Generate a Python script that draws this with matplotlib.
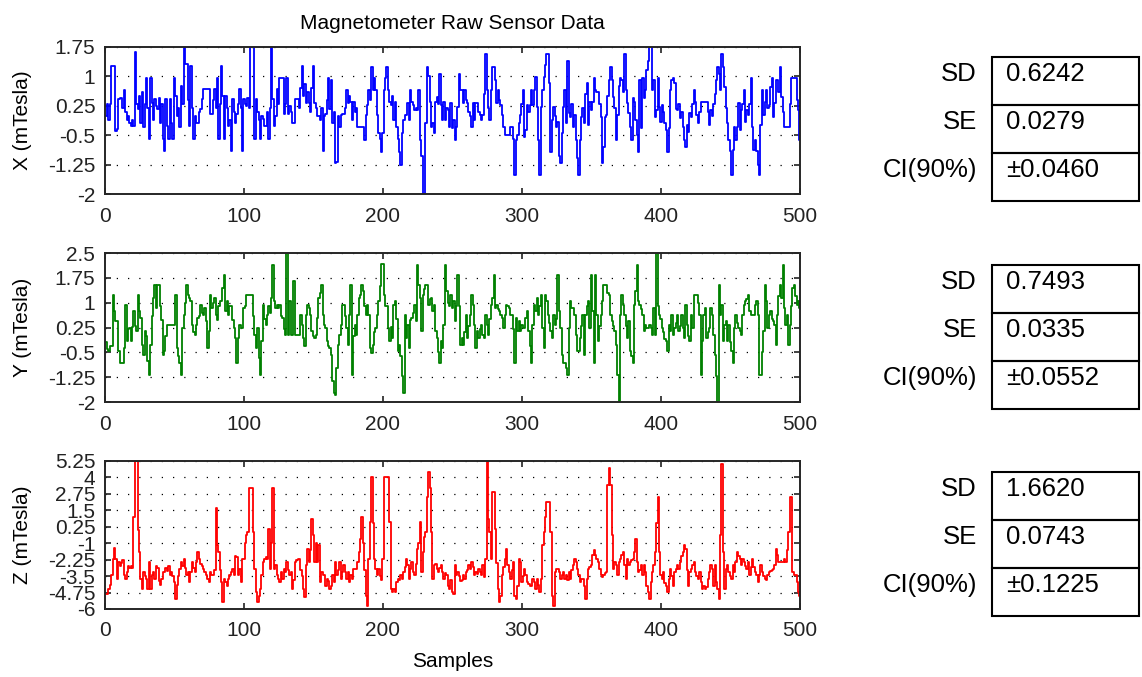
import matplotlib
matplotlib.use('Agg')
import matplotlib.pyplot as plt
import numpy as np
from matplotlib.patches import Rectangle

# ---------------- data ----------------
x_values = [
    0.0, 0.3, -0.1, 0.3, 1.27, 1.27, 1.27, -0.39, -0.35, 0.42,
    0.46, 0.46, 0.2, 0.66, 0.1, -0.1, 0.0, -0.2, -0.26, -0.1,
    -0.26, 1.61, 0.3, 0.16, 0.5, -0.18, 0.6, -0.3, 0.3, 0.97,
    0.2, -0.6, 0.97, 0.33, -0.1, 0.42, 0.25, 0.16, 0.46, -0.18,
    0.3, -0.6, -0.9, 0.42, -0.26, -0.6, 0.42, -0.2, -0.6, 0.97,
    0.5, 0.0, 0.2, -0.3, 0.76, 0.3, 1.75, 1.31, 1.31, 0.4,
    -0.26, 1.27, 0.2, -0.6, 0.0, -0.18, -0.18, 0.1, 0.16, 0.42,
    0.67, 0.67, 0.67, 0.67, 0.67, 0.04, 0.04, 0.4, 0.67, 0.2,
    0.97, -0.6, 0.3, 1.27, 0.5, -0.6, 0.5, 0.2, -0.26, -0.1,
    -0.9, 0.42, 0.1, -0.18, 0.04, 0.3, 0.67, 0.2, -0.9, 0.42,
    0.3, 0.25, 0.46, 0.2, 1.75, 1.75, 1.75, -0.6, 0.42, 0.08,
    -0.1, -0.6, 0.0, -0.09, -0.26, -0.26, 0.1, -0.6, 0.2, 1.75,
    0.42, -0.26, 0.0, 0.67, 0.3, 0.97, 0.97, 0.97, 0.04, 0.3,
    0.97, 0.04, 0.25, 0.1, -0.18, -0.18, 0.42, 0.42, 0.42, 0.2,
    0.7, 1.27, 0.5, 0.8, 0.33, 0.6, 0.33, 0.1, 0.7, 1.27,
    0.33, 0.2, 0.0, 0.0, -0.1, 0.2, -0.9, 0.0, 0.04, 0.4,
    0.97, 0.16, 0.9, -0.2, 0.1, -1.21, -1.19, 0.0, -0.3, 0.01,
    0.04, 0.04, 0.2, 0.65, 0.31, 0.5, 0.35, -0.11, 0.35, 0.1,
    0.2, -0.28, -0.28, -0.28, -0.28, -0.28, -0.62, 0.01, 0.27, 0.65,
    0.4, 1.24, 0.65, 0.95, 0.65, 0.01, -0.45, -0.6, -0.92, -0.45,
    0.65, 0.95, 1.24, 0.65, 0.35, 0.27, 0.5, -0.11, 0.35, -0.28,
    -0.6, -0.92, -1.26, -0.45, -0.11, 0.01, 0.01, 0.31, -0.11, 0.65,
    0.35, 0.27, 0.14, 0.2, 0.14, 0.65, -0.62, -1.04, -2.0, -2.0,
    -0.2, 1.24, 1.0, 0.35, -0.28, -0.2, -0.45, 0.35, 0.48, 0.3,
    1.07, 0.27, -0.11, 0.35, -0.11, 0.2, 0.14, -0.28, 0.31, -0.32,
    -0.1, -0.62, -0.28, 0.23, 1.07, 0.65, 0.65, 0.31, 0.65, 0.4,
    0.31, 0.1, 0.0, -0.28, 0.31, -0.11, 0.31, 0.31, 0.1, 0.01,
    -0.11, 0.01, 0.56, 1.56, 0.65, 0.2, -0.11, 0.65, 1.24, 1.24,
    0.9, 0.31, 0.65, 0.4, 0.27, 0.01, -0.28, -0.49, -0.49, -0.49,
    -0.49, -0.3, -0.28, -0.6, -1.51, -0.62, -0.49, -0.2, 0.01, 0.3,
    0.65, -0.54, -0.37, 0.27, 0.1, 0.27, 0.65, 0.27, 0.65, 0.99,
    0.23, -0.62, -1.51, 0.23, 0.65, 0.99, 1.3, 1.56, 1.56, 0.82,
    -0.92, -0.11, 0.23, 0.0, -0.28, -0.16, -1.04, -1.21, -0.45, 0.23,
    0.65, -0.2, 1.4, 0.06, -0.03, 0.3, -0.28, 0.01, -0.62, -1.09,
    -1.51, -0.62, -0.03, 0.2, -0.2, 0.56, 0.82, -0.24, 0.35, 0.14,
    0.35, 0.95, 0.65, 0.61, 0.61, 0.3, -0.03, -1.21, -0.79, -0.03,
    0.01, 0.5, 0.9, 1.24, 0.9, 0.48, 0.2, -0.62, 0.01, 0.75,
    0.95, 0.9, 0.6, 1.56, 0.65, 0.31, 0.06, -0.3, -0.62, 0.44,
    0.35, -0.11, -0.5, -0.92, 0.9, -0.32, 0.95, 0.44, 0.65, 1.16,
    1.4, 1.75, 1.75, 0.65, 0.9, -0.03, 0.14, 0.95, 0.23, -0.16,
    0.27, 0.1, -0.2, -0.37, -0.92, -0.32, 0.65, 0.9, 0.95, 0.82,
    0.18, 0.14, 0.3, -0.07, 0.1, -0.28, -0.62, -0.79, -0.24, -0.41,
    0.06, -0.03, 0.3, 0.65, 0.35, 0.01, -0.2, 0.1, 0.35, 0.35,
    0.35, 0.35, 0.35, 0.1, -0.24, 0.14, 0.0, 0.3, 0.56, 0.9,
    1.24, 1.07, 0.65, 1.56, 1.24, 0.73, 0.2, -0.2, -0.62, -0.9,
    -1.51, -0.88, -0.28, -0.62, -0.28, 0.31, -0.37, 0.14, 0.3, 0.65,
    -0.16, 0.14, 0.01, 0.3, 0.95, -0.28, -0.88, -0.62, -0.9, -1.26,
    -1.51, -0.24, 0.65, 0.01, 0.35, 0.65, 0.2, 0.27, 0.73, 0.95,
    -0.03, 0.31, 0.9, 0.9, 0.6, 1.24, 0.48, 0.1, -0.28, -0.28,
    -0.28, -0.28, 0.3, 0.95, 0.95, 0.95, 0.95, 0.4, 0.14, -0.62,
]

y_values = [
    -0.2, -0.4, -0.45, -0.3, -0.3, 1.24, 0.74, 0.44, 0.44, -0.47,
    -0.82, -0.82, -0.82, -0.37, 0.94, -0.17, 0.2, 0.23, -0.17, 0.28,
    0.74, 0.3, 0.13, 1.24, 0.74, 0.54, -0.27, -0.57, 0.13, 0.0,
    -0.77, -1.18, -0.27, 0.6, 1.14, 1.54, 0.84, 1.54, 1.54, 0.9,
    0.49, -0.57, -0.47, -0.02, 0.33, 0.33, 0.33, 0.33, 0.33, 0.33,
    1.24, -0.37, -0.6, -0.82, -1.18, 0.23, 0.64, 1.0, 1.54, 1.24,
    1.14, 1.04, 0.33, 0.1, 0.03, 0.33, 0.54, 0.59, 0.94, 0.7,
    0.64, 0.84, 0.44, -0.37, 0.13, 1.24, 0.84, 1.0, 1.14, 0.64,
    0.49, 0.89, 1.04, 1.04, 1.44, 1.85, 0.74, 1.04, 0.64, 0.89,
    0.89, 0.49, 0.23, -0.07, -0.82, -0.07, 0.33, 0.23, 0.23, 0.84,
    0.9, 1.24, 1.24, 1.24, 1.24, 1.24, 0.6, 0.03, -0.37, 0.23,
    -0.67, -1.18, -0.17, 0.94, 0.5, 0.33, 0.64, 0.89, 0.7, 1.14,
    2.15, 1.04, 0.84, 0.94, 0.84, 0.94, 0.6, 0.54, 0.2, 0.03,
    2.5, 0.03, 1.04, 0.03, 0.03, 1.64, 0.03, 0.03, 0.03, 0.03,
    0.64, 0.33, -0.07, -0.32, 0.64, 0.94, 0.84, 0.64, 0.13, 0.0,
    -0.07, 0.03, 0.54, 1.14, 1.3, 1.54, 0.64, 0.33, 0.23, -0.17,
    -0.3, -0.37, -0.57, -1.38, -1.73, -1.78, -0.97, -0.27, 0.03, 0.33,
    0.94, 0.94, 0.6, 0.23, -0.27, 0.64, 1.54, -1.18, 0.0, 0.33,
    0.03, 0.64, 1.14, 1.24, 1.54, 1.34, 0.9, 0.64, 0.94, 0.64,
    -0.37, -0.52, -0.27, 0.1, 0.23, 0.64, 1.04, 1.5, 2.17, 2.17,
    1.24, 0.9, 0.89, 0.23, -0.17, 0.28, -0.07, 0.94, 1.04, 0.5,
    -0.47, -0.27, -0.6, -1.2, -1.73, 0.64, -0.07, 0.33, -0.37, 0.49,
    0.54, 0.7, 0.94, 0.44, 2.15, 1.54, 1.14, 0.13, 1.24, 1.4,
    1.54, 1.54, 0.94, 1.1, 1.14, 0.74, 0.94, 0.13, -0.07, -0.5,
    -0.82, -0.17, -0.37, 0.33, 2.15, 1.34, 1.0, 0.89, 1.24, 0.84,
    1.04, 0.44, 0.9, 1.85, 0.89, -0.27, -0.07, -0.27, 0.1, 0.64,
    -0.07, 0.3, 0.64, 1.24, 0.94, 0.33, -0.37, 0.13, -0.07, 0.2,
    0.33, 0.03, -0.07, 0.64, 0.33, 0.03, 0.5, 0.94, 1.14, 1.85,
    0.84, 0.94, 0.8, 0.74, 0.64, 0.54, 0.23, 0.64, 0.94, 0.9,
    0.84, 0.64, 0.64, 0.2, -0.82, 0.54, 0.13, 0.44, 0.13, 0.33,
    0.23, 0.23, 0.54, 0.74, 0.13, -0.3, -0.82, 0.33, 0.94, 0.74,
    1.14, 0.64, 0.9, 1.24, 0.23, -0.37, 1.24, 1.04, 0.64, 0.4,
    0.13, -0.07, 0.64, 0.33, 0.5, 1.85, 0.74, 0.23, -0.57, -0.82,
    -0.82, -0.97, -1.18, 0.23, 1.04, 0.84, 0.84, 0.64, 0.03, -0.47,
    -0.47, -0.07, 0.3, 0.64, -0.57, 0.64, 0.9, 1.04, 0.23, 1.85,
    0.74, -0.82, 1.85, 0.64, -0.17, 0.3, 0.64, 1.04, 1.54, 1.54,
    1.54, 1.3, 1.24, 0.64, 0.44, 0.3, 0.13, -0.27, -1.18, -2.0,
    0.64, 1.24, 0.94, 0.64, 0.3, -0.07, 0.44, -0.47, -0.6, -0.82,
    0.94, 1.34, 2.15, 1.04, 0.94, 0.8, 0.64, 0.13, 0.33, 0.23,
    0.23, 0.33, 0.23, 0.03, 0.84, 0.03, 2.5, 0.89, 0.64, 0.5,
    0.23, 0.1, -0.1, -0.17, -0.47, 0.33, 0.13, 0.64, 0.03, 0.23,
    0.4, 0.64, 0.13, 0.3, 0.64, 0.23, -0.07, 0.94, 0.33, 0.0,
    -0.17, 0.64, 0.23, 1.24, 1.24, 1.24, 1.0, 0.64, -1.18, -0.17,
    0.64, 0.84, -0.07, 0.1, 0.23, 0.84, 0.64, 0.03, -0.57, -1.2,
    -2.0, 1.54, 0.64, 0.94, -0.17, 0.33, 0.44, -0.17, 0.33, -0.2,
    -0.47, -0.82, 0.23, 0.64, 0.4, 0.23, 0.13, 0.03, 0.64, 0.94,
    1.04, 1.1, 1.24, 0.74, 0.64, 0.64, 0.64, 0.94, 1.04, 0.64,
    -1.18, -1.18, -0.5, 0.13, 1.54, 1.04, 0.23, 0.64, 0.74, 0.5,
    0.44, 0.33, -0.27, 0.64, 1.2, 1.54, 1.14, 2.15, 0.84, 0.33,
    0.64, -0.27, 0.33, 0.9, 1.44, 1.54, 1.2, 0.94, 1.04, 0.84,
]

z_values = [
    -4.85, -4.85, -4.5, -4.2, -3.45, -2.2, -1.4, -2.2, -3.7, -2.4,
    -2.7, -2.5, -2.3, -3.45, -3.7, -3.2, -2.7, -2.9, -2.7, -2.9,
    1.0, 5.25, 5.25, 0.0, -1.7, -3.7, -4.5, -3.2, -3.5, -3.7,
    -4.5, -2.4, -4.5, -3.45, -3.2, -3.7, -2.7, -2.9, -3.9, -4.2,
    -3.7, -3.2, -3.2, -2.9, -3.1, -2.7, -3.45, -3.2, -3.5, -3.96,
    -5.23, -4.2, -3.5, -2.94, -2.43, -2.7, -2.2, -2.9, -3.45, -3.2,
    -3.96, -3.2, -2.43, -2.9, -3.2, -2.43, -1.67, -2.2, -2.56, -2.7,
    -2.94, -3.2, -3.45, -3.71, -3.96, -3.2, -3.45, -3.45, -3.07, 1.64,
    -1.16, -1.67, -3.0, -3.96, -5.49, -3.71, -3.96, -4.22, -3.71, -3.45,
    -3.2, -2.94, -3.45, -2.0, -2.05, -3.45, -2.94, -3.96, -2.18, -2.18,
    -1.0, -0.4, -0.14, 3.16, 3.16, 3.16, -0.14, -2.94, -4.72, -5.49,
    -4.98, -4.5, -3.45, -2.43, -2.18, -2.05, -2.18, 0.11, -2.94, -1.0,
    3.16, -2.94, -2.69, -3.45, -3.7, -3.96, -3.2, -3.71, -2.94, -3.2,
    -2.43, -3.0, -3.45, -3.2, -4.47, -3.83, -2.43, -2.31, -2.2, -2.18,
    -3.07, -3.5, -4.47, -5.11, -2.69, -1.42, -2.43, -1.5, 0.87, -0.4,
    -2.43, -0.96, -2.43, -1.16, -3.96, -3.2, -3.45, -3.45, -4.22, -3.71,
    -3.9, -4.47, -4.22, -3.45, -3.96, -2.43, -3.45, -3.0, -2.43, -3.71,
    -3.2, -2.69, -3.2, -3.71, -3.2, -3.96, -3.45, -3.71, -2.94, -2.94,
    -2.94, -2.43, -1.67, -0.65, 1.0, -0.96, -3.0, -4.98, -5.74, -2.18,
    0.62, 4.05, 0.5, -2.18, -2.94, -3.45, -2.94, -3.5, -3.83, -2.18,
    4.05, 4.05, 4.05, 4.05, 0.62, -4.47, -4.72, -4.47, -4.72, -3.96,
    -3.7, -3.83, -3.45, -3.71, -3.2, -2.82, -2.18, -2.69, -3.71, -2.94,
    -2.43, -3.2, -3.45, -2.56, -1.42, -1.0, 0.62, -3.2, -1.67, -0.5,
    -0.14, 2.53, 4.38, 3.16, -0.14, -3.71, -2.69, -2.56, -2.94, -3.2,
    -2.9, -2.69, -3.2, -3.71, -3.3, -3.45, -4.22, -4.47, -3.83, -4.72,
    -4.85, -2.69, -3.45, -3.2, -3.5, -3.9, -3.83, -3.45, -3.71, -3.2,
    -3.07, -2.69, -2.94, -2.43, -2.8, -3.45, -3.2, -3.33, -2.94, -3.2,
    -3.45, -2.69, -3.58, -2.18, 5.25, 0.87, -0.14, -2.18, 2.91, 2.91,
    0.11, -2.5, -4.47, -5.49, -4.98, -3.45, -2.8, -2.18, -1.42, -2.69,
    -3.2, -3.71, -3.0, -2.43, -4.98, -5.23, -4.22, -2.18, -2.43, -3.96,
    -3.5, -2.94, -3.45, -3.96, -4.1, -4.22, -4.22, -3.71, -3.96, -4.47,
    -3.71, -4.2, -4.72, -3.71, -1.16, -0.14, 1.0, 2.15, 2.15, 2.15,
    -0.14, -4.98, -5.74, -3.2, -2.94, -2.94, -3.2, -3.71, -3.45, -3.2,
    -3.71, -3.45, -3.83, -3.2, -3.71, -3.0, -2.69, -2.18, -2.43, -2.94,
    -3.45, -3.96, -3.71, -3.71, -4.22, -5.23, -3.71, -2.94, -2.8, -2.69,
    -1.93, -1.54, -1.93, -2.2, -2.43, -2.94, -3.45, -3.58, -3.45, -3.3,
    -3.2, 3.42, 4.69, 3.42, -0.4, -2.94, -2.43, -2.69, -3.45, -2.43,
    -2.18, -1.9, -1.67, -2.69, -3.71, -2.18, -2.69, -2.43, -2.3, -2.18,
    -1.67, -0.65, -2.43, -3.2, -3.0, -2.69, -3.45, -2.69, -3.2, -4.22,
    -4.7, -5.23, -3.96, -3.2, -2.69, -1.67, 0.5, 2.53, -1.67, -3.45,
    -3.71, -3.2, -4.0, -4.22, -4.72, -3.71, -2.94, -3.5, -4.22, -3.2,
    -2.94, -2.69, -2.94, -2.43, -2.0, -1.67, -1.16, -1.42, -3.0, -4.22,
    -3.2, -2.94, -2.69, -2.43, -3.2, -3.5, -3.71, -3.2, -3.96, -4.47,
    -4.22, -4.47, -4.3, -3.71, -3.2, -2.69, -2.94, -4.22, -2.69, -3.96,
    -4.5, -5.23, -0.4, 5.0, -1.67, -4.47, -2.94, -2.69, -3.2, -3.5,
    -3.71, -2.69, -3.2, -2.43, -1.67, -2.0, -2.18, -2.69, -2.18, -2.43,
    -2.7, -2.94, -2.43, -3.45, -2.82, -2.18, -2.8, -3.2, -3.45, -3.96,
    -3.45, -2.69, -3.2, -3.5, -3.71, -3.83, -3.45, -3.2, -3.1, -3.07,
    -2.94, -2.69, -1.42, -1.93, -2.43, -2.43, -2.43, -2.43, -2.18, -2.43,
    -1.5, -0.14, 2.53, 2.53, -3.2, -3.45, -3.45, -3.96, -4.72, -4.98,
]

samples = np.arange(1, len(x_values) + 1)

x_ticks = [0, 100, 200, 300, 400, 500]
x_yticks = [-2, -1.25, -0.5, 0.25, 1, 1.75]
y_yticks = [-2, -1.25, -0.5, 0.25, 1, 1.75, 2.5]
z_yticks = [-6, -4.75, -3.5, -2.25, -1, 0.25, 1.5, 2.75, 4, 5.25]

stat_names = ['SD', 'SE', 'CI(90%)']
x_stats = ['0.6242', '0.0279', '\u00b10.0460']
y_stats = ['0.7493', '0.0335', '\u00b10.0552']
z_stats = ['1.6620', '0.0743', '\u00b10.1225']

# ---------------- figure ----------------
plt.rcParams['font.family'] = ['Liberation Sans', 'DejaVu Sans']
plt.rcParams['axes.unicode_minus'] = False

W, H = 1142, 677
fig = plt.figure(figsize=(W / 100, H / 100), dpi=100)


def fx(px):
    return px / W


def fy(py):
    return 1 - py / H


panel_px = [(47, 194), (253, 402), (461, 609)]
left_px, right_px = 105, 800

specs = [
    (x_values, 'X (mTesla)', x_yticks, (0, 0, 1)),
    (y_values, 'Y (mTesla)', y_yticks, (0, 0.5, 0)),
    (z_values, 'Z (mTesla)', z_yticks, (1, 0, 0)),
]

axes = []
for (vals, lab, yt, col), (top, bot) in zip(specs, panel_px):
    ax = fig.add_axes([fx(left_px), fy(bot), (right_px - left_px) / W, (bot - top) / H])
    ax.plot(samples, vals, color=col, lw=1.3, drawstyle='steps-mid')
    ax.set_xlim(x_ticks[0], x_ticks[-1])
    ax.set_ylim(yt[0], yt[-1])
    ax.set_yticks(yt)
    ax.set_yticklabels(['%g' % t for t in yt])
    ax.set_xticks(x_ticks)
    ax.set_xticklabels([str(t) for t in x_ticks])
    ax.tick_params(direction='in', length=4.5, width=1.2, top=True, right=True,
                   labelsize=15, pad=7, colors='#222222')
    ax.tick_params(axis='x', pad=9)
    ax.yaxis.grid(True, linestyle=(0, (1, 8)), color='black', lw=0.9)
    for s in ax.spines.values():
        s.set_linewidth(1.4)
        s.set_color('#262626')
    ax.set_ylabel(lab, fontsize=15)
    ax.yaxis.set_label_coords(-0.105, 0.5)
    axes.append(ax)

axes[0].set_title('Magnetometer Raw Sensor Data', fontsize=15, pad=13)
axes[2].set_xlabel('Samples', fontsize=15, labelpad=8)

# ---------------- stat tables ----------------
table_tops = [57, 265, 472]
row_h = 48
box_l, box_r = 992, 1139
for top, vals in zip(table_tops, [x_stats, y_stats, z_stats]):
    for i, (name, v) in enumerate(zip(stat_names, vals)):
        rt = top + i * row_h
        fig.patches.append(Rectangle((fx(box_l), fy(rt + row_h)), (box_r - box_l) / W,
                                     row_h / H, transform=fig.transFigure,
                                     fill=False, edgecolor='black', lw=1.5))
        fig.text(fx(box_l + 14), fy(rt + 17), v, fontsize=18.5, ha='left', va='center')
        fig.text(fx(977), fy(rt + 17), name, fontsize=18.5, ha='right', va='center')

fig.savefig('out.png', dpi=100)
